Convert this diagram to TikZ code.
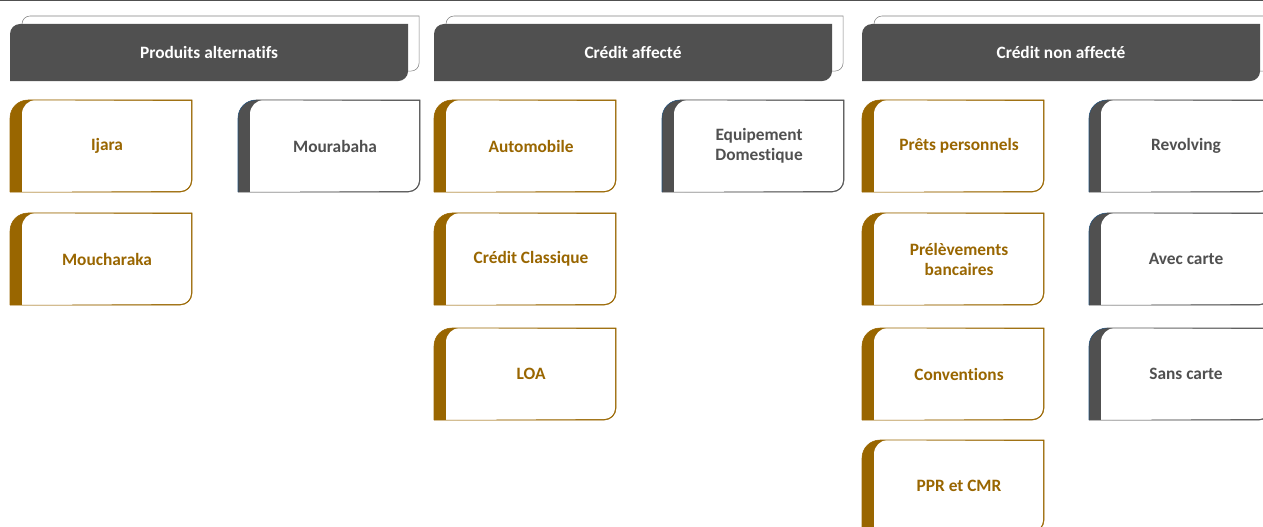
\documentclass[tikz,border=0pt]{standalone}
\usepackage{fontspec}
\setmainfont{Carlito}[Ligatures=NoCommon]
\usetikzlibrary{calc, backgrounds}

\definecolor{bronze}{RGB}{153,102,0}
\definecolor{slate}{RGB}{80,80,80}
\definecolor{rimgray}{RGB}{89,89,89}
\definecolor{navyrim}{RGB}{31,78,121}
\definecolor{backrim}{RGB}{128,128,128}

% dark header band with the white tab behind it
\NewDocumentCommand{\headshape}{m}{
  \begin{scope}[on background layer]
    \draw[backrim, fill=white] ($(#1.south west)+(12,10)$) -- ($(#1.north west)+(12,0)$)
      arc[start angle=180, end angle=90, radius=8] -- ($(#1.north east)+(11,8)$)
      -- ($(#1.south east)+(11,18)$) arc[start angle=0, end angle=-90, radius=8] -- cycle;
    \fill[slate] (#1.south west) -- ($(#1.north west)+(0,-10)$)
      arc[start angle=180, end angle=90, radius=10] -- (#1.north east)
      -- ($(#1.south east)+(0,10)$) arc[start angle=0, end angle=-90, radius=10] -- cycle;
  \end{scope}
}

% box with a coloured band on its left: name, band, rim, edge
\NewDocumentCommand{\leafshape}{m m m m}{
  \begin{scope}[on background layer]
    \fill[#2] ($(#1.south west)+(-12,0)$) -- ($(#1.north west)+(-12,-18)$)
      arc[start angle=180, end angle=90, radius=18] -- (#1.north east)
      -- ($(#1.south east)+(0,12)$) arc[start angle=0, end angle=-90, radius=12] -- cycle;
    \fill[white] (#1.south west) -- ($(#1.north west)+(0,-14)$)
      arc[start angle=180, end angle=90, radius=14] -- ($(#1.north east)+(-1,-1)$)
      -- ($(#1.south east)+(-1,12)$) arc[start angle=0, end angle=-90, radius=11] -- cycle;
    \draw[#3] ($(#1.north west)+(6,0)$) -- (#1.north east)
      -- ($(#1.south east)+(0,12)$) arc[start angle=0, end angle=-90, radius=12]
      -- ($(#1.south west)+(-12,0)$);
    \draw[#4] ($(#1.south west)+(-12,0)$) -- ($(#1.north west)+(-12,-18)$)
      arc[start angle=180, end angle=90, radius=18];
  \end{scope}
}

\tikzset{
  header/.style={anchor=north west, minimum width=297.75pt, minimum height=42pt,
    inner sep=0pt, text=white, font=\fontsize{13}{15}\selectfont\bfseries},
  leaf/.style={anchor=north west, minimum width=126.75pt, minimum height=68.25pt,
    inner sep=0pt, align=center, font=\fontsize{13}{15}\selectfont\bfseries},
  bronzeleaf/.style={leaf, text=bronze},
  slateleaf/.style={leaf, text=slate}
}

\begin{document}
\begin{tikzpicture}[x=0.75pt, y=0.75pt, line width=0.8pt]
    \clip (0,0) rectangle (1263,-527);
    \draw[slate, line width=1pt] (0,-0.6) -- (1263,-0.6);

    % headers
    \node[header] (alt) at (10,-24) {Produits alternatifs};
    \node[header] (affecte) at (434,-24) {Crédit affecté};
    \node[header] (nonaff) at (862,-24) {Crédit non affecté};
    \headshape{alt}
    \headshape{affecte}
    \headshape{nonaff}

    % Produits alternatifs
    \node[bronzeleaf] (ijara) at (22,-100) {Ijara};
    \node[bronzeleaf] (moucharaka) at (22,-213) {Moucharaka};
    \node[slateleaf] (mourabaha) at (250,-100) {Mourabaha};
    \leafshape{ijara}{bronze}{bronze}{bronze}
    \leafshape{moucharaka}{bronze}{bronze}{bronze}
    \leafshape{mourabaha}{slate}{rimgray}{navyrim}

    % Crédit affecté
    \node[bronzeleaf] (auto) at (446,-100) {Automobile};
    \node[bronzeleaf] (classique) at (446,-213) {Crédit Classique};
    \node[bronzeleaf] (loa) at (446,-328) {LOA};
    \node[slateleaf] (equip) at (674,-100) {Equipement\\Domestique};
    \leafshape{auto}{bronze}{bronze}{bronze}
    \leafshape{classique}{bronze}{bronze}{bronze}
    \leafshape{loa}{bronze}{bronze}{bronze}
    \leafshape{equip}{slate}{rimgray}{navyrim}

    % Crédit non affecté
    \node[bronzeleaf] (prets) at (874,-100) {Prêts personnels};
    \node[bronzeleaf] (prelev) at (874,-213) {Prélèvements\\bancaires};
    \node[bronzeleaf] (conv) at (874,-328) {Conventions};
    \node[bronzeleaf] (ppr) at (874,-440) {PPR et CMR};
    \node[slateleaf] (revolving) at (1101,-100) {Revolving};
    \node[slateleaf] (avec) at (1101,-213) {Avec carte};
    \node[slateleaf] (sans) at (1101,-328) {Sans carte};
    \leafshape{prets}{bronze}{bronze}{bronze}
    \leafshape{prelev}{bronze}{bronze}{bronze}
    \leafshape{conv}{bronze}{bronze}{bronze}
    \leafshape{ppr}{bronze}{bronze}{bronze}
    \leafshape{revolving}{slate}{rimgray}{navyrim}
    \leafshape{avec}{slate}{rimgray}{navyrim}
    \leafshape{sans}{slate}{rimgray}{navyrim}
\end{tikzpicture}
\end{document}
